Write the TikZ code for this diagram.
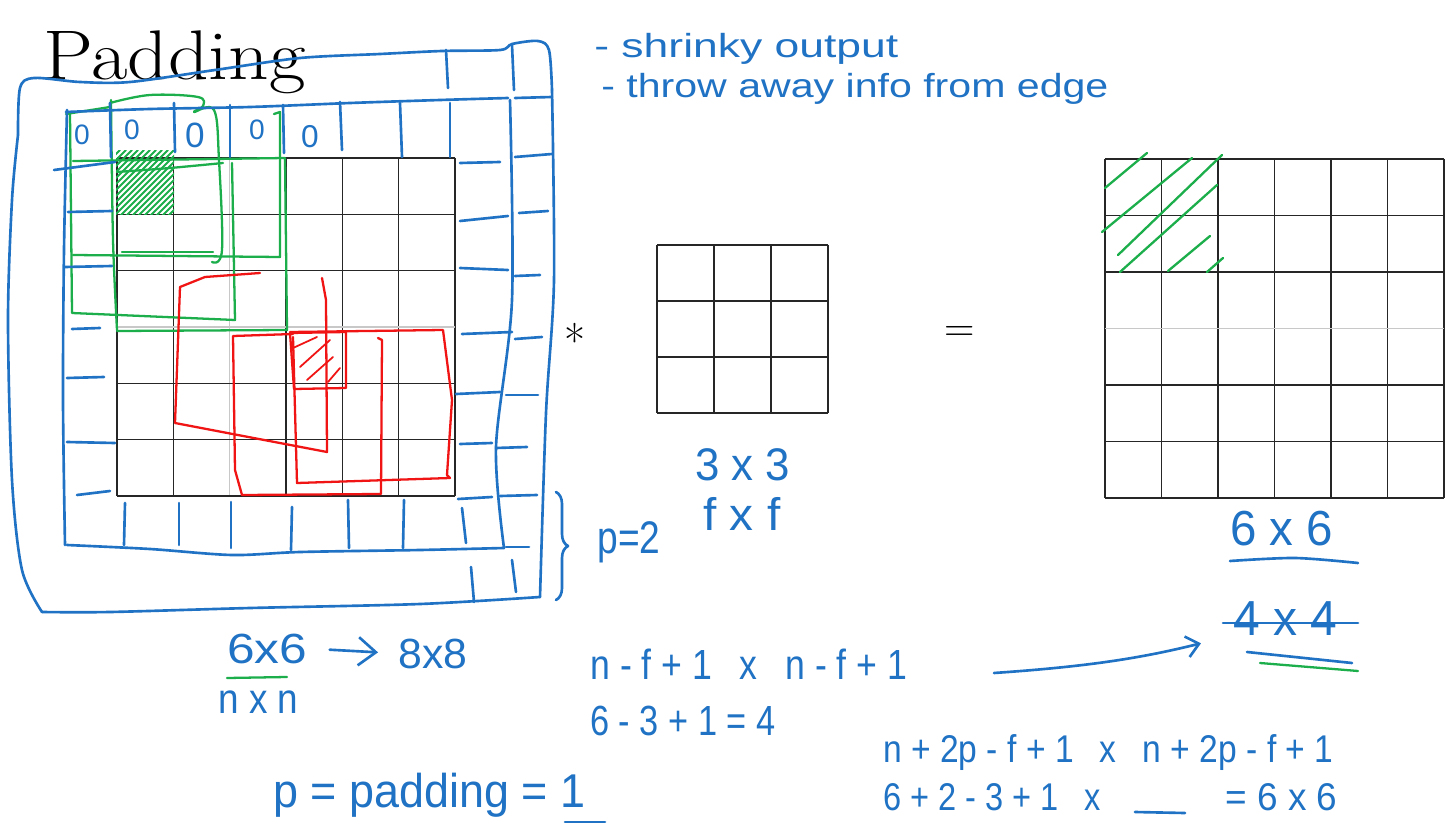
\documentclass[tikz,border=0pt]{standalone}
\usepackage{fontspec}
\newfontfamily\handfont{Liberation Sans}
\usepackage{tikz}
\usetikzlibrary{arrows.meta,decorations.pathreplacing,positioning}
\definecolor{penblue}{HTML}{1F72C4}
\definecolor{pengreen}{HTML}{1BAE4B}
\definecolor{penred}{HTML}{F01414}
\definecolor{gridgray}{HTML}{C8C8C8}
\newlength\pxu
\setlength\pxu{0.02cm}
\newcommand{\hw}[2]{\resizebox{#1\pxu}{\height}{#2}}

\tikzset{
  gridline/.style={line width=0.75pt, draw=black!85},
  gridfaint/.style={line width=0.75pt, draw=gridgray},
  pen/.style={line width=1.5pt, draw=penblue, line cap=round, line join=round},
  greenpen/.style={line width=1.3pt, draw=pengreen, line cap=round, line join=round},
  redpen/.style={line width=1.3pt, draw=penred, line cap=round, line join=round},
  hand/.style={font=\handfont\fontsize{#1}{#1}\selectfont, text=penblue,
               inner sep=0pt, anchor=base west},
  hand/.default=24,
  slide/.style={font=\fontsize{#1}{#1}\selectfont, inner sep=0pt, anchor=base},
}

\begin{document}
\begin{tikzpicture}[x=0.02cm, y=-0.02cm]

  \useasboundingbox[fill=white] (0,0) rectangle (1453,831);

  %% Title
  \node[slide=40, anchor=base west] (title) at (43,80) {\hw{262}{Padding}};

  %% Input 6x6
  \foreach \i/\st in {0/gridline,1/gridline,2/gridfaint,3/gridline,4/gridline,5/gridline,6/gridline}
    \draw[\st] ({117+56.33*\i},158) -- ({117+56.33*\i},496);
  \foreach \j/\st in {0/gridline,1/gridline,2/gridline,3/gridfaint,4/gridline,5/gridline,6/gridline}
    \draw[\st] (117,{158+56.33*\j}) -- (455,{158+56.33*\j});

  %% Filter 3x3
  \foreach \i in {0,...,3} {
    \draw[gridline] ({657+57*\i},245) -- ({657+57*\i},413);
    \draw[gridline] (657,{245+56*\i}) -- (828,{245+56*\i});
  }

  %% Output 6x6
  \foreach \i in {0,...,6}
    \draw[gridline] ({1105+56.5*\i},159) -- ({1105+56.5*\i},498);
  \foreach \j/\st in {0/gridline,1/gridline,2/gridline,3/gridfaint,4/gridline,5/gridline,6/gridline}
    \draw[\st] (1105,{159+56.5*\j}) -- (1444,{159+56.5*\j});

  \node[slide=26] (star) at (575,357) {*};
  \node[slide=24] (eq) at (960,341) {=};

  %% Green filter positions
  \begin{scope}
    \clip (116,151) rectangle (174,215);
    \foreach \c in {270,276,...,392}
      \draw[greenpen, line width=1.1pt] (\c-218,218) -- (\c-150,150);
  \end{scope}
  \draw[greenpen] (66,114) -- (110,107);
  \draw[greenpen] plot[smooth, tension=0.6] coordinates
    {(110,103) (150,95) (198,97) (203,106) (194,112) (214,110) (219,160) (222,250) (212,262)};
  \draw[greenpen] plot[smooth] coordinates {(111,100) (113,240) (117,330)};
  \draw[greenpen] (70,113) -- (72,313) -- (235,320) -- (232,163);
  \draw[greenpen] (73,255) -- (280,257) -- (280,112) -- (274,114);
  \draw[greenpen] (73,161) -- (285,158) -- (287,330) -- (117,331);
  \draw[greenpen] plot[smooth] coordinates {(117,172) (170,168) (223,163)};
  \draw[greenpen] (122,252) -- (213,252);

  %% Output hatch
  \foreach \xa/\ya/\xb/\yb in {1105/188/1147/153, 1102/232/1192/158, 1118/255/1222/155,
                               1120/272/1217/185, 1168/271/1210/236, 1207/272/1223/258}
    \draw[greenpen] (\xa,\ya) -- (\xb,\yb);

  %% Red filter positions
  \draw[redpen] (260,273) -- (205,277) -- (180,287) -- (175,423) -- (327,452) -- (326,300) -- (322,278);
  \draw[redpen] (293,334) -- (233,336) -- (235,470) -- (242,495) -- (381,494) -- (382,340) -- (378,338);
  \draw[redpen] (290,332) -- (443,330) -- (452,400) -- (447,475) -- (450,478) -- (297,483) -- (293,337);
  \draw[redpen] (290,333) -- (346,332) -- (346,388) -- (294,389) -- cycle;
  \foreach \xa/\ya/\xb/\yb in {293/348/317/337, 300/367/330/340, 307/380/333/357, 328/382/340/368}
    \draw[redpen, line width=1pt] (\xa,\ya) -- (\xb,\yb);

  %% Padding frames
  \draw[pen] plot[smooth, tension=0.5] coordinates
    {(18,135) (20,88) (34,78) (80,82) (130,82) (215,70) (300,58) (380,54) (442,51)
     (500,50) (512,44) (538,41) (549,50) (552,90)};
  \draw[pen] plot[smooth] coordinates {(552,90) (554,280) (546,413) (540,597)};
  \draw[pen] plot[smooth] coordinates {(540,597) (420,604) (250,608) (110,612) (42,612)};
  \draw[pen] plot[smooth] coordinates {(42,612) (22,570) (12,480) (8,320) (12,200) (18,135)};
  \draw[pen] plot[smooth] coordinates {(66,112) (150,109) (250,107) (350,103) (440,100) (508,98)};
  \draw[pen] plot[smooth] coordinates {(510,100) (512,300) (496,447) (504,548)};
  \draw[pen] plot[smooth] coordinates {(504,548) (420,550) (300,552) (232,555) (150,549) (67,545)};
  \draw[pen] plot[smooth] coordinates {(65,545) (63,400) (64,250) (67,110)};

  \foreach \xa/\ya/\xb/\yb in {
      110/103/111/157, 174/103/175/152, 230/105/230/157, 283/105/284/153,
      340/102/342/150, 400/103/402/157, 450/103/450/157,
      446/50/448/88, 512/45/514/90,
      54/170/115/162, 68/212/112/211, 65/267/112/266, 72/329/100/328,
      67/378/104/377, 67/442/115/443, 77/495/110/491,
      460/163/500/162, 460/221/508/216, 460/268/508/270, 462/334/512/332,
      456/394/500/392, 460/444/492/443, 458/499/492/497,
      515/98/552/97, 515/157/552/154, 519/213/548/211, 515/276/540/275,
      515/339/542/337, 506/395/538/395, 496/448/527/447, 500/496/537/495,
      506/547/529/547,
      125/503/124/545, 179/503/179/545, 231/502/231/548, 292/507/291/550,
      348/500/349/548, 404/500/403/548, 462/508/466/543,
      471/567/474/602, 512/560/516/592}
    \draw[pen] (\xa,\ya) -- (\xb,\yb);

  \node[hand=16, anchor=center] (zero1) at (82,135) {0};
  \node[hand=16, anchor=center] (zero2) at (132,130) {0};
  \node[hand=20, anchor=center] (zero3) at (195,135) {0};
  \node[hand=16, anchor=center] (zero4) at (257,130) {0};
  \node[hand=18, anchor=center] (zero5) at (310,137) {0};

  \draw[pen, decorate, decoration={brace, amplitude=0.24cm}] (556,492) -- (556,600);
  \node[hand=26] (ptwo) at (597,553) {\hw{63}{p=2}};

  %% Notes
  \node[hand=19] (notes1) at (594,58) {\hw{304}{- shrinky output}};
  \node[hand=19] (notes2) at (601,98) {\hw{507}{- throw away info from edge}};

  %% Sizes
  \node[hand=24] (n66in) at (227,663) {\hw{80}{6x6}};
  \node[hand=24] (n88) at (398,668) {\hw{69}{8x8}};
  \draw[pen, -{Straight Barb[length=10pt, width=16pt]}, shorten <=0.44cm, shorten >=0.4cm]
    (n66in.east) -- (n88.west);
  \draw[greenpen] (227,678) -- (287,677);
  \node[hand=24] (nxn) at (218,713) {\hw{80}{n x n}};

  \node[hand=27] (padeq) at (273,807) {\hw{312}{p = padding = 1}};
  \draw[pen] (565,822) -- (605,822);

  \node[hand=26] (n33) at (695,480) {\hw{95}{3 x 3}};
  \node[hand=26] (nfxf) at (703,530) {\hw{77}{f x f}};

  \node[hand=24] (nform1) at (590,679) {\hw{317}{n - f + 1 \enspace x \enspace n - f + 1}};
  \node[hand=24] (nform2) at (590,735) {\hw{185}{6 - 3 + 1 = 4}};

  \node[hand=28] (n66out) at (1230,545) {\hw{103}{6 x 6}};
  \draw[pen] plot[smooth] coordinates {(1230,561) (1295,558) (1358,563)};

  \node[hand=28] (n44) at (1233,635) {\hw{104}{4 x 4}};
  \draw[pen] (1223,623) -- (1358,623);
  \draw[pen] (1247,652) -- (1352,663);
  \draw[greenpen] (1260,663) -- (1358,671);

  \coordinate (arrfrom) at (994,673);
  \draw[pen, -{Straight Barb[length=7pt, width=12pt]}, shorten >=0.66cm]
    (arrfrom) to[bend right=5] (n44.south west);

  \node[hand=22] (nform3) at (883,762) {\hw{450}{n + 2p - f + 1 \enspace x \enspace n + 2p - f + 1}};
  \node[hand=22] (nform4a) at (883,810) {\hw{217}{6 + 2 - 3 + 1 \enspace x}};
  \draw[pen] (1135,812) -- (1185,813);
  \node[hand=22] (nform4b) at (1225,810) {\hw{112}{= 6 x 6}};

\end{tikzpicture}
\end{document}
